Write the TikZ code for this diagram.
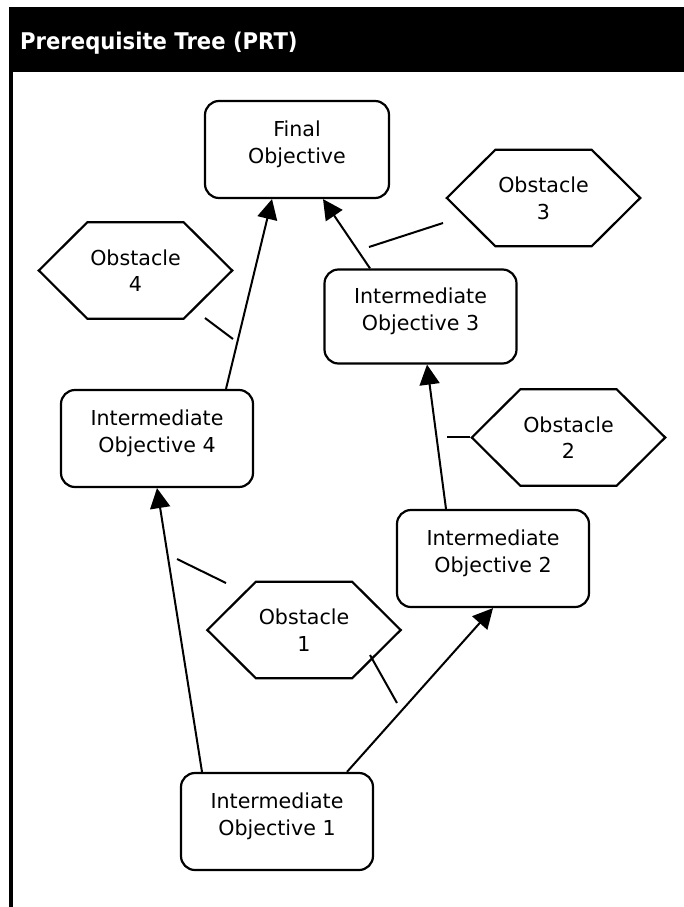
\documentclass[tikz,border=0pt]{standalone}
\usepackage{fontspec}
\setmainfont{DejaVu Sans}
\newfontfamily\headfont{DejaVu Sans}[FakeStretch=0.92]
\usetikzlibrary{arrows.meta,calc}
\begin{document}
\begin{tikzpicture}[x=1pt,y=-1pt,
  objbox/.style={draw, line width=2.2pt, rounded corners=14pt,
    minimum width=192pt, minimum height=97pt, inner sep=0pt,
    align=center, font=\fontsize{20.6}{26.5}\selectfont, text depth=15pt},
  hexbox/.style={minimum width=96pt, minimum height=96pt, inner sep=0pt,
    align=center, font=\fontsize{20.6}{26.5}\selectfont, text depth=0pt},
  hexedge/.style={line width=2.2pt, line join=miter},
  prereq/.style={line width=2pt, -{Triangle[length=20pt,width=20pt]}},
  tie/.style={line width=2pt}
]
\useasboundingbox (0,0) rectangle (684,907);
\fill[white] (0,0) rectangle (684,907);

% header bar and left rule
\fill[black] (9,7) rectangle (684,72);
\fill[black] (9,72) rectangle (13,907);
\node[anchor=base west, text=white, inner sep=0pt,
  font=\headfont\bfseries\fontsize{23}{28}\selectfont] (title) at (20,50) {Prerequisite Tree (PRT)};

% objectives
\node[objbox, minimum width=184pt] (fo)  at (297,149.5) {Final\\Objective};
\node[objbox, minimum height=94pt] (io3) at (420.5,316.5) {Intermediate\\Objective 3};
\node[objbox] (io4) at (157,438.5) {Intermediate\\Objective 4};
\node[objbox] (io2) at (493,558.5) {Intermediate\\Objective 2};
\node[objbox] (io1) at (277,821.5) {Intermediate\\Objective 1};

% obstacles
\node[hexbox] (o3) at (543.5,198)   {Obstacle\\3};
\node[hexbox] (o4) at (135.5,270.5) {Obstacle\\4};
\node[hexbox] (o2) at (568.5,437.5) {Obstacle\\2};
\node[hexbox] (o1) at (304,630)     {Obstacle\\1};
\foreach \h in {o1,o2,o3,o4}
  \draw[hexedge] (\h.north west) -- (\h.north east) -- ($(\h.east)+(48.5,0)$)
    -- (\h.south east) -- (\h.south west) -- ($(\h.west)+(-48.5,0)$) -- cycle;

% prerequisite arrows
\draw[prereq] ([xshift=-75pt]io1.north) -- (io4.south);
\draw[prereq] ([xshift=70pt]io1.north) -- (io2.south);
\draw[prereq] ([xshift=-47pt]io2.north) -- ([xshift=6.5pt]io3.south);
\draw[prereq] ([xshift=-50.5pt]io3.north) -- ([xshift=26pt]fo.south);
\draw[prereq] ([xshift=69pt]io4.north) -- ([xshift=-25pt]fo.south);

% obstacle ties
\coordinate (t4a) at (205,318); \coordinate (t4b) at (233,339);
\coordinate (t3a) at (369,247); \coordinate (t3b) at (443,223);
\coordinate (t2a) at (447,437); \coordinate (t2b) at (470,437);
\coordinate (t1a) at (177,559); \coordinate (t1b) at (226,583);
\coordinate (t1c) at (370,655); \coordinate (t1d) at (397,703);
\draw[tie] (t4a) -- (t4b);
\draw[tie] (t3a) -- (t3b);
\draw[tie] (t2a) -- (t2b);
\draw[tie] (t1a) -- (t1b);
\draw[tie] (t1c) -- (t1d);
\end{tikzpicture}
\end{document}
